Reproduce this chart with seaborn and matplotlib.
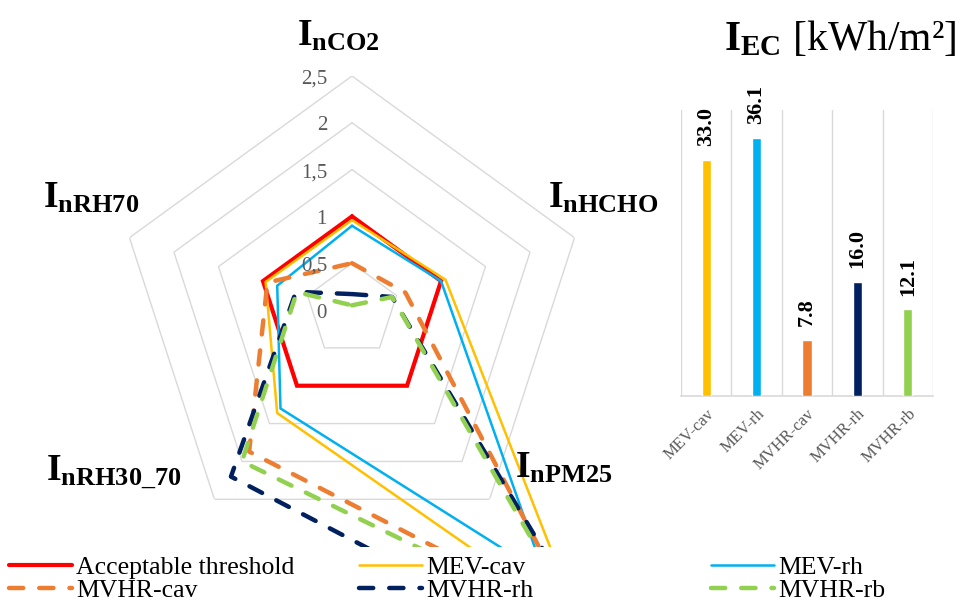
import numpy as np
import pandas as pd
import matplotlib
matplotlib.use('Agg')
import matplotlib.pyplot as plt
import seaborn as sns
from matplotlib.patches import Rectangle
from matplotlib.lines import Line2D
from matplotlib.transforms import offset_copy

# ---------------- data ----------------
indicators = ['nCO2', 'nHCHO', 'nPM25', 'nRH30_70', 'nRH70']
series_names = ['Acceptable threshold', 'MEV-cav', 'MEV-rh', 'MVHR-cav', 'MVHR-rh', 'MVHR-rb']
threshold = [1.00, 1.00, 1.00, 1.00, 1.00]
mev_cav = [0.96, 1.05, 4.15, 1.36, 0.97]
mev_rh = [0.90, 1.00, 3.50, 1.30, 0.84]
mvhr_cav = [0.50, 0.60, 4.10, 1.87, 0.95]
mvhr_rh = [0.17, 0.45, 4.90, 2.20, 0.63]
mvhr_rb = [0.05, 0.45, 4.20, 2.00, 0.62]
radial_ticks = [0, 0.5, 1, 1.5, 2, 2.5]
radial_labels = ['0', '0,5', '1', '1,5', '2', '2,5']

bar_categories = ['MEV-cav', 'MEV-rh', 'MVHR-cav', 'MVHR-rh', 'MVHR-rb']
bar_values = [33.0, 36.1, 7.8, 16.0, 12.1]

# ---------------- style ----------------
colors = {'Acceptable threshold': '#FF0000', 'MEV-cav': '#FFC000', 'MEV-rh': '#00B0F0',
          'MVHR-cav': '#ED7D31', 'MVHR-rh': '#002060', 'MVHR-rb': '#92D050'}
widths = {'Acceptable threshold': 3.0, 'MEV-cav': 1.8, 'MEV-rh': 1.8,
          'MVHR-cav': 3.2, 'MVHR-rh': 3.2, 'MVHR-rb': 3.2}
dash_pat = (3.2, 3.6)
dashes = {'Acceptable threshold': '', 'MEV-cav': '', 'MEV-rh': '',
          'MVHR-cav': dash_pat, 'MVHR-rh': dash_pat, 'MVHR-rb': dash_pat}
grid_color = '#D9D9D9'
serif = 'Liberation Serif'

sns.set_theme(style='white')
plt.rcParams['font.family'] = [serif, 'DejaVu Serif']
plt.rcParams['text.color'] = 'black'
plt.rcParams['mathtext.fontset'] = 'custom'
plt.rcParams['mathtext.bf'] = 'Liberation Serif:bold'
plt.rcParams['mathtext.rm'] = 'Liberation Serif'
plt.rcParams['mathtext.it'] = 'Liberation Serif:italic'

W, H = 959, 604
fig = plt.figure(figsize=(W / 100, H / 100), dpi=100)

def fx(px):
    return px / W

def fy(py):
    return 1 - py / H

# ---------------- radar ----------------
ax = fig.add_axes([fx(118), fy(544), fx(468), 468 / H], projection='polar')
ax.set_theta_offset(np.pi / 2)
ax.set_theta_direction(-1)
ax.set_ylim(0, 2.5)
ax.grid(False)
ax.spines['polar'].set_visible(False)
ax.set_xticks([])
ax.set_yticks([])
ax.patch.set_visible(False)

n = len(indicators)
angles = np.linspace(0, 2 * np.pi, n, endpoint=False)
closed = np.append(angles, angles[0])
for v in radial_ticks[1:]:
    ax.plot(closed, [v] * (n + 1), color=grid_color, lw=1.0, zorder=1)
n_grid = len(ax.lines)

all_series = [threshold, mev_cav, mev_rh, mvhr_cav, mvhr_rh, mvhr_rb]
rows = []
for name, vals in zip(series_names, all_series):
    for k in range(n + 1):
        rows.append({'angle': closed[k], 'value': vals[k % n], 'series': name, 'order': k})
df = pd.DataFrame(rows)

for name in series_names:
    sub = df[df['series'] == name]
    sns.lineplot(data=sub, x='angle', y='value', sort=False, estimator=None,
                 color=colors[name], lw=widths[name], ax=ax, legend=False, zorder=3)
    ln = ax.lines[-1]
    if dashes[name]:
        ln.set_dashes(dashes[name])
        ln.set_dash_capstyle('round')
    ln.set_solid_joinstyle('miter')

clip_rect = Rectangle((0, fy(547)), 1, 1 - fy(547), transform=fig.transFigure)
for ln in ax.lines[n_grid:]:
    ln.set_clip_path(clip_rect)

ax.set_xlabel('')
ax.set_ylabel('')

lab_tr = offset_copy(ax.transData, fig=fig, x=-25, y=-3, units='dots')
for v, lab in zip(radial_ticks, radial_labels):
    ax.text(0, v, lab, transform=lab_tr, ha='right', va='center',
            color='#595959', fontsize=15, family=serif, zorder=5)

axis_label_pos = {'nCO2': (297, 46), 'nHCHO': (548, 208), 'nPM25': (515, 478),
                  'nRH30_70': (46, 480), 'nRH70': (43, 208)}
for name in indicators:
    px, py = axis_label_pos[name]
    sub = name.replace('_', r'\_')
    fig.text(fx(px), fy(py), r'$\mathbf{I}_{\mathbf{' + sub + '}}$', fontsize=27,
             ha='left', va='baseline', color='black', zorder=10)

# ---------------- bars ----------------
bax = fig.add_axes([fx(681), fy(396), fx(252), 286 / H])
bar_colors = [colors[c] for c in bar_categories]
sns.barplot(x=bar_categories, y=bar_values, hue=bar_categories, palette=bar_colors,
            width=0.18, saturation=1, ax=bax, legend=False, zorder=3)
bax.set_ylim(0, 40)
bax.set_xlim(-0.5, len(bar_categories) - 0.5)
for s in ['top', 'right', 'left']:
    bax.spines[s].set_visible(False)
bax.spines['bottom'].set_color(grid_color)
bax.spines['bottom'].set_linewidth(1.2)
for xb in np.arange(-0.5, len(bar_categories), 1.0):
    bax.axvline(xb, color=grid_color, lw=1.0, zorder=1)
bax.set_yticks([])
bax.set_xticks(range(len(bar_categories)))
bax.set_xticklabels(bar_categories, rotation=45, ha='right', rotation_mode='anchor',
                    fontsize=12, color='#595959', family=serif)
bax.tick_params(axis='x', length=0, pad=7)
bax.set_xlabel('')
bax.set_ylabel('')
for cont in bax.containers:
    bax.bar_label(cont, fmt='%.1f', rotation=90, padding=10, fontsize=16,
                  fontweight='bold', family=serif, color='black')

fig.text(fx(724), fy(50), r'$\mathbf{I}_{\mathbf{EC}}$ [kWh/m²]', fontsize=30,
         ha='left', va='baseline', family=serif, color='black')

# ---------------- legend ----------------
def handle(name):
    h = Line2D([0], [0], color=colors[name], lw=widths[name])
    if dashes[name]:
        h.set_dashes(dashes[name])
        h.set_dash_capstyle('round')
    return h

legend_cols = [(['Acceptable threshold', 'MVHR-cav'], 9),
               (['MEV-cav', 'MVHR-rh'], 359),
               (['MEV-rh', 'MVHR-rb'], 711)]
for names, x0 in legend_cols:
    leg = fig.legend([handle(nm) for nm in names], names, loc='upper left',
                     bbox_to_anchor=(fx(x0), fy(556)), frameon=False,
                     handlelength=2.45, handletextpad=0.15, labelspacing=0.0,
                     borderpad=0, borderaxespad=0, prop={'family': serif, 'size': 18.5})
    for t in leg.get_texts():
        t.set_color('black')

fig.savefig('out.png', dpi=100)
